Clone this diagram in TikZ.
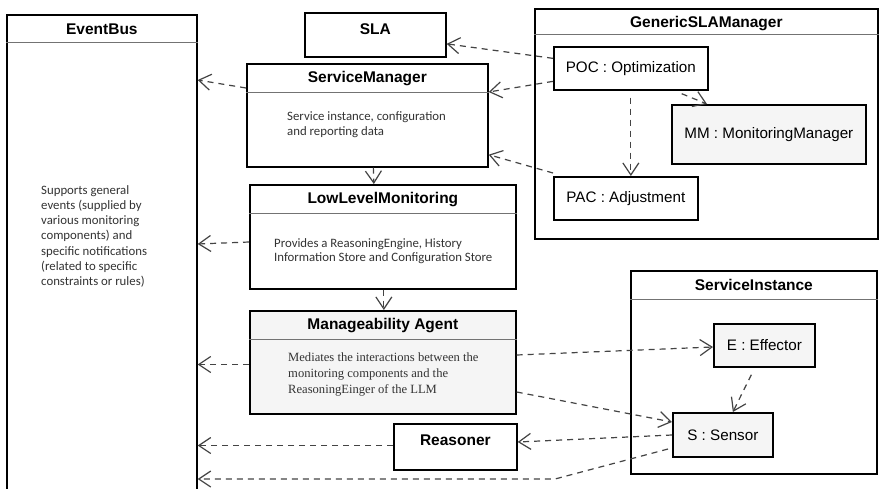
\documentclass[tikz,border=0pt]{standalone}
\usepackage{fontspec}
\setmainfont{Liberation Sans}
\newfontfamily\notesans{Carlito}
\newfontfamily\noteserif{Liberation Serif}
\usetikzlibrary{arrows.meta}

\definecolor{boxgrey}{HTML}{F5F5F5}
\definecolor{depgrey}{HTML}{444444}

\begin{document}
\begin{tikzpicture}[x=1pt,y=-1pt,
    box/.style={draw,line width=1.7pt,anchor=north west,inner sep=0pt,fill=white},
    obj/.style={box,font=\fontsize{15.2}{17}\selectfont},
    title/.style={font=\fontsize{15.5}{17}\selectfont\bfseries,inner sep=0pt},
    sep/.style={draw=black!55,line width=0.9pt},
    note/.style={anchor=north west,inner sep=0pt,align=left,text=black!80,
                 font=\notesans\fontsize{12.8}{15.3}\selectfont},
    dep/.style={draw=depgrey,line width=1.2pt,dash pattern=on 6pt off 5pt,
                -{Straight Barb[length=12pt,width=16pt,line width=1.2pt]}}]
  \useasboundingbox (0,0) rectangle (879,488);
  \fill[white] (0,0) rectangle (879,488);

  % left column
  \node[box,minimum width=190pt,minimum height=480pt] (eventbus) at (6,14) {};
  \node[title] (eventbustitle) at ([yshift=-15pt]eventbus.north) {EventBus};
  \draw[sep] ([yshift=-28pt]eventbus.north west) -- ([yshift=-28pt]eventbus.north east);
  \node[note] (eventbusnote) at (41,185) {Supports general\\events (supplied by\\various monitoring\\components) and\\specific notifications\\(related to specific\\constraints or rules)};

  % middle column
  \node[box,minimum width=141pt,minimum height=44pt] (sla) at (304,12) {};
  \node[title] (slatitle) at ([yshift=-17pt]sla.north) {SLA};

  \node[box,minimum width=241pt,minimum height=103pt] (sm) at (246,63) {};
  \node[title] (smtitle) at ([yshift=-16pt]sm.north) {ServiceManager};
  \draw[sep] ([yshift=-29pt]sm.north west) -- ([yshift=-29pt]sm.north east);
  \node[note,font=\notesans\fontsize{12.8}{15}\selectfont] (smnote) at (287,111) {Service instance, configuration\\and reporting data};

  \node[box,minimum width=266pt,minimum height=104pt] (llm) at (249,184) {};
  \node[title] (llmtitle) at ([yshift=-16pt]llm.north) {LowLevelMonitoring};
  \draw[sep] ([yshift=-29pt]llm.north west) -- ([yshift=-29pt]llm.north east);
  \node[note,font=\notesans\fontsize{12.8}{14}\selectfont] (llmnote) at (274,238) {Provides a ReasoningEngine, History\\Information Store and Configuration Store};

  \node[box,fill=boxgrey,minimum width=266pt,minimum height=103pt] (ma) at (249,310) {};
  \node[title] (matitle) at ([yshift=-16pt]ma.north) {Manageability Agent};
  \draw[sep] ([yshift=-29pt]ma.north west) -- ([yshift=-29pt]ma.north east);
  \node[note,font=\noteserif\fontsize{12.6}{16}\selectfont] (manote) at (288,353) {Mediates the interactions between the\\monitoring components and the\\ReasoningEinger of the LLM};

  \node[box,minimum width=123pt,minimum height=46pt] (reasoner) at (393,423) {};
  \node[title] (reasonertitle) at ([yshift=-17pt]reasoner.north) {Reasoner};

  % GenericSLAManager
  \node[box,minimum width=343pt,minimum height=230pt] (gsm) at (534,8) {};
  \node[title] (gsmtitle) at ([yshift=-16pt]gsm.north) {GenericSLAManager};
  \draw[sep] ([yshift=-26pt]gsm.north west) -- ([yshift=-26pt]gsm.north east);
  \node[obj,minimum width=154pt,minimum height=43pt] (poc) at (553,46) {POC : Optimization};
  \node[obj,fill=boxgrey,minimum width=194pt,minimum height=59pt] (mm) at (671,104) {MM : MonitoringManager};
  \node[obj,minimum width=144pt,minimum height=43pt] (pac) at (553,176) {PAC : Adjustment};

  % ServiceInstance
  \node[box,minimum width=246pt,minimum height=203pt] (si) at (630,270) {};
  \node[title] (sititle) at ([yshift=-15pt]si.north) {ServiceInstance};
  \draw[sep] ([yshift=-29pt]si.north west) -- ([yshift=-29pt]si.north east);
  \node[obj,fill=boxgrey,minimum width=101pt,minimum height=43pt] (eff) at (713,323) {E : Effector};
  \node[obj,fill=boxgrey,minimum width=100pt,minimum height=44pt] (sen) at (672,412) {S : Sensor};
  \coordinate (senbend) at (555,479);

  % dependencies
  \path[every edge/.style={dep}]
    ([yshift=10pt]poc.west) edge ([yshift=-9pt]sla.east)
    ([yshift=-13pt]poc.west) edge ([yshift=-29pt]sm.north east)
    ([yshift=3pt]pac.north west) edge ([yshift=13pt]sm.south east)
    ([yshift=-7pt]poc.south) edge ([xshift=5pt]pac.north)
    ([xshift=-27pt,yshift=-3pt]poc.south east) edge ([xshift=36pt]mm.north west)
    ([yshift=-25pt]sm.north west) edge ([yshift=-66pt]eventbus.north east)
    ([yshift=-58pt]llm.north west) edge ([yshift=-230pt]eventbus.north east)
    ([yshift=-54.5pt]ma.north west) edge ([yshift=-350.5pt]eventbus.north east)
    ([yshift=-22.5pt]reasoner.north west) edge ([yshift=-431.5pt]eventbus.north east)
    ([xshift=6pt]sm.south) edge ([xshift=-9pt]llm.north)
    ([xshift=1pt]llm.south) edge ([xshift=1pt]ma.north)
    ([yshift=-45pt]ma.north east) edge ([yshift=-24pt]eff.north west)
    ([yshift=-82pt]ma.north east) edge ([yshift=-10pt]sen.north west)
    ([yshift=-23pt]sen.north west) edge ([yshift=-19pt]reasoner.north east)
    ([xshift=-13pt,yshift=-7pt]eff.south) edge ([xshift=10pt]sen.north);
  \draw[dep] ([xshift=-4pt,yshift=-37pt]sen.north west) -- (senbend) -- ([yshift=-465pt]eventbus.north east);
\end{tikzpicture}
\end{document}
